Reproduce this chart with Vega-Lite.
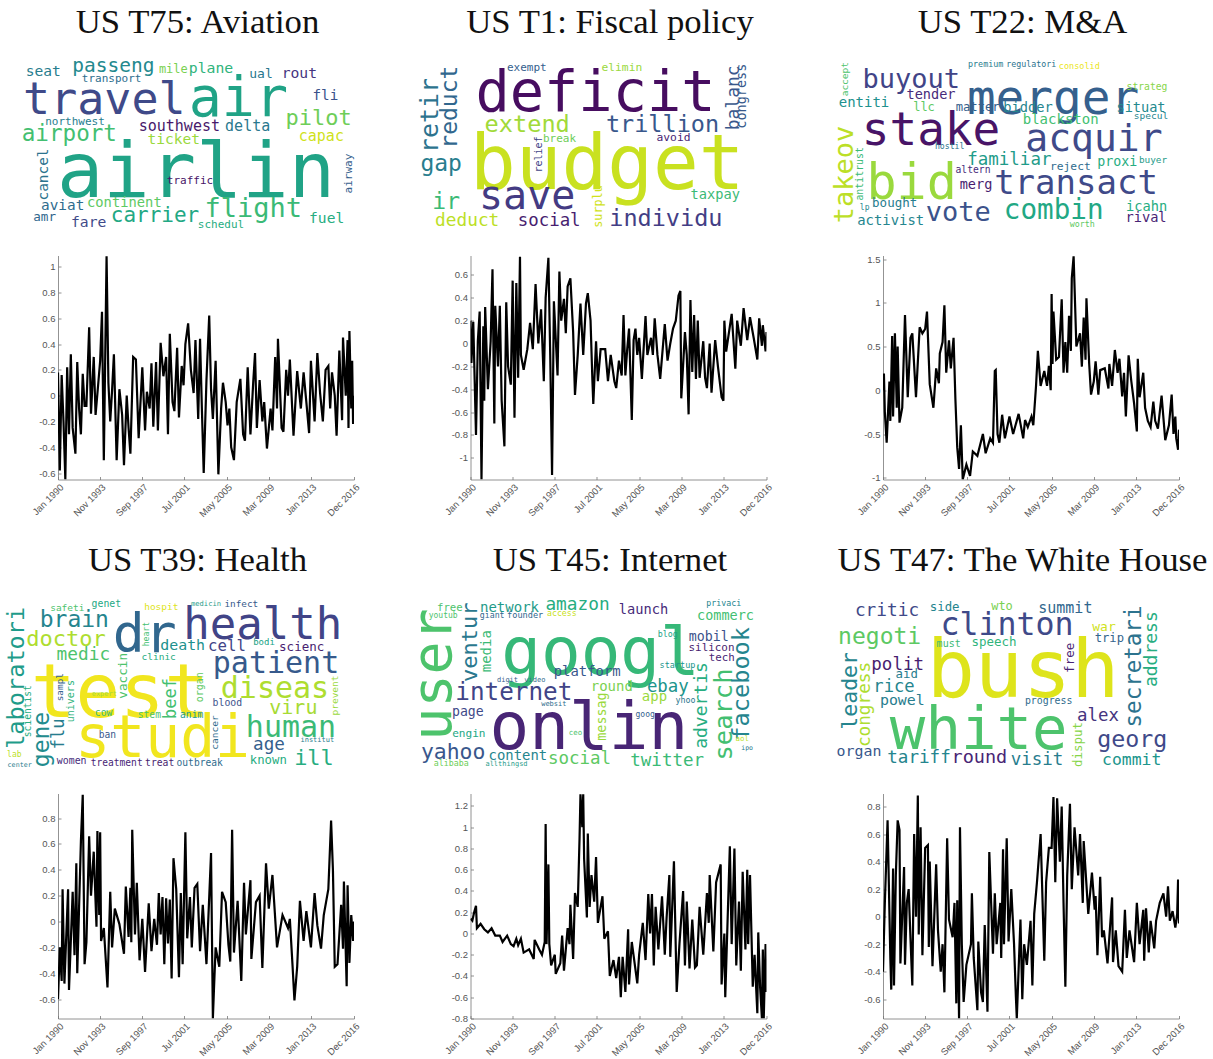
{
"$schema":"https://vega.github.io/schema/vega-lite/v6.json",
"background":"white",
"padding":{"left":5,"top":4.5,"right":0,"bottom":0},
"columns":3,
"bounds":"flush",
"spacing":{"row":0,"column":116.5},
"config":{"view":{"stroke":null},
"axis":{"grid":false,"title":null,"domainColor":"#777","domainWidth":0.8,"tickColor":"#777","tickWidth":0.8,"tickSize":-3,"labelColor":"#555","labelFont":"Liberation Sans","labelFontSize":9.5},
"title":{"font":"Liberation Serif","fontSize":34.7,"fontWeight":"normal","color":"#111","anchor":"middle","baseline":"alphabetic","dx":-8.5}},
"datasets":{
"c1":[{"w":"airlin","x":585,"y":590,"s":77,"c":0.58,"r":0},{"w":"travel","x":310,"y":340,"s":45,"c":0.22,"r":0},{"w":"air","x":712,"y":345,"s":55,"c":0.58,"r":0},{"w":"passeng","x":337,"y":215,"s":19.5,"c":0.47,"r":0},{"w":"seat","x":127,"y":225,"s":14.6,"c":0.42,"r":0},{"w":"transport","x":332,"y":243,"s":11,"c":0.36,"r":0},{"w":"mile","x":517,"y":218,"s":12,"c":0.8,"r":0},{"w":"plane","x":630,"y":218,"s":14.8,"c":0.65,"r":0},{"w":"ual","x":780,"y":233,"s":13,"c":0.4,"r":0},{"w":"rout","x":895,"y":233,"s":14.7,"c":0.15,"r":0},{"w":"fli","x":973,"y":297,"s":14.3,"c":0.25,"r":0},{"w":"pilot","x":953,"y":372,"s":22,"c":0.78,"r":0},{"w":"northwest","x":222,"y":372,"s":11,"c":0.42,"r":0},{"w":"airport","x":205,"y":420,"s":22.6,"c":0.7,"r":0},{"w":"southwest","x":535,"y":392,"s":15,"c":0.06,"r":0},{"w":"delta","x":740,"y":392,"s":15,"c":0.4,"r":0},{"w":"ticket","x":518,"y":430,"s":14.5,"c":0.85,"r":0},{"w":"capac","x":961,"y":420,"s":15,"c":0.93,"r":0},{"w":"cancel","x":140,"y":522,"s":14.4,"c":0.38,"r":1},{"w":"airway","x":1053,"y":519,"s":11,"c":0.3,"r":1},{"w":"traffic","x":567,"y":550,"s":11,"c":0.05,"r":0},{"w":"aviat","x":185,"y":628,"s":14.4,"c":0.35,"r":0},{"w":"continent","x":370,"y":620,"s":13.8,"c":0.75,"r":0},{"w":"amr","x":131,"y":660,"s":12.6,"c":0.33,"r":0},{"w":"carrier","x":462,"y":665,"s":21,"c":0.6,"r":0},{"w":"flight","x":757,"y":650,"s":27,"c":0.68,"r":0},{"w":"fare","x":263,"y":680,"s":14.7,"c":0.22,"r":0},{"w":"fuel","x":977,"y":668,"s":14.6,"c":0.62,"r":0},{"w":"schedul","x":660,"y":683,"s":11,"c":0.62,"r":0}],
"c2":[{"w":"deficit","x":585,"y":330,"s":57,"c":0.03,"r":0},{"w":"budget","x":620,"y":565,"s":76,"c":0.92,"r":0},{"w":"save","x":380,"y":625,"s":40,"c":0.17,"r":0},{"w":"extend","x":380,"y":393,"s":23.6,"c":0.86,"r":0},{"w":"trillion","x":786,"y":393,"s":23.5,"c":0.27,"r":0},{"w":"exempt","x":379,"y":210,"s":11,"c":0.3,"r":0},{"w":"elimin","x":664,"y":210,"s":11.3,"c":0.85,"r":0},{"w":"balanc","x":1015,"y":292,"s":18,"c":0.27,"r":1},{"w":"congress","x":1035,"y":287,"s":13.5,"c":0.28,"r":1},{"w":"retir","x":112,"y":345,"s":25,"c":0.38,"r":1},{"w":"reduct","x":170,"y":320,"s":23,"c":0.33,"r":1},{"w":"gap","x":122,"y":510,"s":23,"c":0.42,"r":0},{"w":"ir","x":137,"y":625,"s":23,"c":0.68,"r":0},{"w":"deduct","x":200,"y":677,"s":17.8,"c":0.9,"r":0},{"w":"social","x":446,"y":677,"s":17.4,"c":0.08,"r":0},{"w":"individu","x":796,"y":675,"s":23.5,"c":0.18,"r":0},{"w":"surplu","x":605,"y":618,"s":11.8,"c":0.93,"r":1},{"w":"relief","x":423,"y":462,"s":10,"c":0.2,"r":1},{"w":"break","x":477,"y":424,"s":11,"c":0.78,"r":0},{"w":"avoid","x":819,"y":422,"s":11.3,"c":0.1,"r":0},{"w":"taxpay","x":944,"y":594,"s":13.7,"c":0.68,"r":0}],
"c3":[{"w":"merger","x":717,"y":340,"s":47.7,"c":0.3,"r":0},{"w":"stake","x":351,"y":432,"s":46,"c":0.05,"r":0},{"w":"bid","x":293,"y":595,"s":50,"c":0.85,"r":0},{"w":"acquir","x":840,"y":450,"s":38,"c":0.22,"r":0},{"w":"buyout","x":292,"y":262,"s":27,"c":0.2,"r":0},{"w":"transact","x":786,"y":580,"s":34,"c":0.22,"r":0},{"w":"takeov","x":118,"y":522,"s":27,"c":0.9,"r":1},{"w":"vote","x":433,"y":660,"s":27,"c":0.25,"r":0},{"w":"combin","x":719,"y":655,"s":27.6,"c":0.6,"r":0},{"w":"familiar","x":586,"y":493,"s":17.5,"c":0.55,"r":0},{"w":"tender","x":351,"y":295,"s":13.6,"c":0.12,"r":0},{"w":"entiti","x":150,"y":318,"s":14,"c":0.5,"r":0},{"w":"llc","x":330,"y":330,"s":12,"c":0.75,"r":0},{"w":"matter","x":491,"y":330,"s":12.2,"c":0.3,"r":0},{"w":"bidder","x":642,"y":335,"s":13.7,"c":0.45,"r":0},{"w":"blackston","x":740,"y":370,"s":14,"c":0.7,"r":0},{"w":"situat","x":981,"y":333,"s":13.6,"c":0.47,"r":0},{"w":"strateg","x":999,"y":268,"s":9.7,"c":0.82,"r":0},{"w":"specul","x":1011,"y":355,"s":9.5,"c":0.45,"r":0},{"w":"premium","x":515,"y":200,"s":8.4,"c":0.42,"r":0},{"w":"regulatori","x":652,"y":200,"s":8.3,"c":0.38,"r":0},{"w":"consolid","x":796,"y":205,"s":8.5,"c":0.97,"r":0},{"w":"accept","x":103,"y":236,"s":9.5,"c":0.72,"r":1},{"w":"hostil","x":407,"y":445,"s":8.2,"c":0.38,"r":0},{"w":"antitrust","x":147,"y":520,"s":9.9,"c":0.68,"r":1},{"w":"proxi","x":910,"y":495,"s":13.3,"c":0.62,"r":0},{"w":"buyer","x":1017,"y":488,"s":9.4,"c":0.55,"r":0},{"w":"reject","x":769,"y":508,"s":11.3,"c":0.35,"r":0},{"w":"altern","x":477,"y":518,"s":9.7,"c":0.12,"r":0},{"w":"merg","x":486,"y":565,"s":13.6,"c":0.08,"r":0},{"w":"bought","x":242,"y":618,"s":12.5,"c":0.42,"r":0},{"w":"lp","x":152,"y":628,"s":8,"c":0.45,"r":0},{"w":"activist","x":230,"y":673,"s":13.9,"c":0.45,"r":0},{"w":"icahn","x":998,"y":630,"s":13.7,"c":0.62,"r":0},{"w":"rival","x":996,"y":665,"s":13.7,"c":0.1,"r":0},{"w":"worth","x":805,"y":680,"s":8.3,"c":0.75,"r":0}],
"c4":[{"w":"test","x":357,"y":530,"s":74,"c":0.98,"r":0},{"w":"studi","x":485,"y":650,"s":58,"c":0.98,"r":0},{"w":"dr","x":431,"y":335,"s":53,"c":0.33,"r":0},{"w":"health","x":785,"y":295,"s":44,"c":0.2,"r":0},{"w":"patient","x":825,"y":397,"s":30,"c":0.28,"r":0},{"w":"diseas","x":822,"y":473,"s":30,"c":0.88,"r":0},{"w":"viru","x":877,"y":520,"s":20,"c":0.87,"r":0},{"w":"human","x":870,"y":590,"s":30,"c":0.68,"r":0},{"w":"ill","x":939,"y":672,"s":22,"c":0.62,"r":0},{"w":"age","x":804,"y":628,"s":17.6,"c":0.3,"r":0},{"w":"known","x":802,"y":670,"s":12.3,"c":0.62,"r":0},{"w":"brain","x":220,"y":260,"s":23,"c":0.45,"r":0},{"w":"doctor","x":195,"y":315,"s":22,"c":0.88,"r":0},{"w":"medic","x":247,"y":358,"s":17.8,"c":0.72,"r":0},{"w":"laboratori","x":70,"y":412,"s":23.6,"c":0.55,"r":1},{"w":"gene","x":145,"y":597,"s":23,"c":0.48,"r":1},{"w":"flu","x":188,"y":580,"s":17,"c":0.42,"r":1},{"w":"scientist","x":90,"y":512,"s":9.6,"c":0.62,"r":1},{"w":"sampl","x":186,"y":440,"s":9.4,"c":0.3,"r":1},{"w":"univers","x":218,"y":482,"s":10,"c":0.65,"r":1},{"w":"beef","x":525,"y":474,"s":17,"c":0.7,"r":1},{"w":"vaccin","x":378,"y":406,"s":12.7,"c":0.72,"r":1},{"w":"heart","x":445,"y":281,"s":8.1,"c":0.7,"r":1},{"w":"organ","x":605,"y":440,"s":10,"c":0.75,"r":1},{"w":"prevent","x":1011,"y":465,"s":9.5,"c":0.85,"r":1},{"w":"cancer","x":650,"y":576,"s":9.5,"c":0.35,"r":1},{"w":"safeti","x":199,"y":210,"s":9.5,"c":0.72,"r":0},{"w":"genet","x":316,"y":200,"s":9.8,"c":0.6,"r":0},{"w":"hospit","x":481,"y":207,"s":9.5,"c":0.95,"r":0},{"w":"medicin","x":615,"y":196,"s":7.1,"c":0.55,"r":0},{"w":"infect","x":721,"y":200,"s":9.4,"c":0.28,"r":0},{"w":"death","x":545,"y":327,"s":14.9,"c":0.5,"r":0},{"w":"cell","x":678,"y":330,"s":15.7,"c":0.2,"r":0},{"w":"bodi","x":789,"y":312,"s":9,"c":0.58,"r":0},{"w":"scienc","x":902,"y":331,"s":12.5,"c":0.08,"r":0},{"w":"clinic","x":473,"y":358,"s":9.5,"c":0.62,"r":0},{"w":"expert","x":310,"y":465,"s":7,"c":0.87,"r":0},{"w":"blood","x":679,"y":497,"s":9.8,"c":0.25,"r":0},{"w":"cow","x":308,"y":525,"s":9.8,"c":0.68,"r":0},{"w":"stem","x":445,"y":533,"s":9.7,"c":0.72,"r":0},{"w":"anim","x":572,"y":533,"s":9.7,"c":0.55,"r":0},{"w":"ban","x":319,"y":592,"s":9.6,"c":0.27,"r":0},{"w":"institut","x":949,"y":605,"s":7,"c":0.42,"r":0},{"w":"lab","x":40,"y":650,"s":8,"c":0.9,"r":0},{"w":"center","x":56,"y":678,"s":6.7,"c":0.42,"r":0},{"w":"women","x":212,"y":670,"s":9.9,"c":0.12,"r":0},{"w":"treatment","x":347,"y":675,"s":9.6,"c":0.1,"r":0},{"w":"treat","x":476,"y":675,"s":9.7,"c":0.08,"r":0},{"w":"outbreak","x":596,"y":677,"s":9.6,"c":0.35,"r":0}],
"c5":[{"w":"googl","x":600,"y":400,"s":66,"c":0.67,"r":0},{"w":"onlin","x":565,"y":625,"s":66,"c":0.1,"r":0},{"w":"user","x":150,"y":402,"s":55,"c":0.72,"r":1},{"w":"internet","x":340,"y":478,"s":24.3,"c":0.2,"r":0},{"w":"yahoo","x":158,"y":655,"s":21.4,"c":0.27,"r":0},{"w":"social","x":537,"y":670,"s":17.5,"c":0.75,"r":0},{"w":"twitter","x":800,"y":675,"s":17.5,"c":0.68,"r":0},{"w":"search","x":995,"y":522,"s":25.5,"c":0.7,"r":1},{"w":"facebook","x":1045,"y":430,"s":23.6,"c":0.45,"r":1},{"w":"advertis","x":920,"y":495,"s":18,"c":0.62,"r":1},{"w":"ebay","x":802,"y":455,"s":17.4,"c":0.52,"r":0},{"w":"app","x":762,"y":482,"s":14,"c":0.85,"r":0},{"w":"round","x":634,"y":450,"s":14,"c":0.8,"r":0},{"w":"platform","x":560,"y":405,"s":13.9,"c":0.27,"r":0},{"w":"network","x":327,"y":213,"s":14,"c":0.55,"r":0},{"w":"amazon","x":531,"y":208,"s":17.8,"c":0.62,"r":0},{"w":"free","x":148,"y":212,"s":10.7,"c":0.72,"r":0},{"w":"ventur","x":228,"y":305,"s":22,"c":0.4,"r":1},{"w":"media","x":270,"y":332,"s":14,"c":0.68,"r":1},{"w":"youtub","x":128,"y":232,"s":8,"c":0.72,"r":0},{"w":"giant","x":275,"y":232,"s":8.2,"c":0.33,"r":0},{"w":"founder","x":374,"y":232,"s":8.6,"c":0.33,"r":0},{"w":"access","x":484,"y":227,"s":8.2,"c":0.92,"r":0},{"w":"launch","x":729,"y":220,"s":13.7,"c":0.12,"r":0},{"w":"commerc","x":975,"y":237,"s":13.5,"c":0.7,"r":0},{"w":"privaci","x":970,"y":195,"s":8.3,"c":0.45,"r":0},{"w":"blog","x":802,"y":290,"s":8.3,"c":0.58,"r":0},{"w":"mobil","x":925,"y":300,"s":13.3,"c":0.25,"r":0},{"w":"silicon","x":933,"y":330,"s":10.9,"c":0.08,"r":0},{"w":"tech","x":964,"y":360,"s":10.8,"c":0.1,"r":0},{"w":"startup","x":831,"y":382,"s":8.5,"c":0.52,"r":0},{"w":"digit","x":321,"y":425,"s":7,"c":0.3,"r":0},{"w":"video","x":403,"y":425,"s":7,"c":0.35,"r":0},{"w":"websit","x":460,"y":497,"s":7,"c":0.35,"r":0},{"w":"yhoo","x":855,"y":488,"s":8.3,"c":0.4,"r":0},{"w":"messag","x":615,"y":528,"s":13.4,"c":0.85,"r":1},{"w":"page","x":202,"y":525,"s":13.2,"c":0.22,"r":0},{"w":"engin","x":205,"y":590,"s":11.1,"c":0.6,"r":0},{"w":"goog","x":734,"y":530,"s":8,"c":0.3,"r":0},{"w":"ceo","x":525,"y":583,"s":7.4,"c":0.72,"r":0},{"w":"aol","x":1025,"y":600,"s":7.4,"c":0.9,"r":0},{"w":"ipo","x":1040,"y":627,"s":6.5,"c":0.4,"r":0},{"w":"content","x":352,"y":658,"s":13.9,"c":0.45,"r":0},{"w":"alibaba","x":152,"y":675,"s":8.3,"c":0.78,"r":0},{"w":"allthingsd","x":318,"y":675,"s":7,"c":0.55,"r":0}],
"c6":[{"w":"bush","x":627,"y":470,"s":80,"c":0.95,"r":0},{"w":"white","x":494,"y":625,"s":59,"c":0.72,"r":0},{"w":"clinton","x":579,"y":283,"s":31.6,"c":0.22,"r":0},{"w":"negoti","x":197,"y":310,"s":23,"c":0.75,"r":0},{"w":"critic","x":219,"y":225,"s":17.8,"c":0.22,"r":0},{"w":"side","x":392,"y":212,"s":12.4,"c":0.45,"r":0},{"w":"wto","x":564,"y":207,"s":12,"c":0.8,"r":0},{"w":"summit","x":754,"y":217,"s":15,"c":0.33,"r":0},{"w":"secretari","x":982,"y":378,"s":22.5,"c":0.38,"r":1},{"w":"address","x":1030,"y":326,"s":18,"c":0.62,"r":1},{"w":"war","x":870,"y":272,"s":13,"c":0.93,"r":0},{"w":"trip","x":886,"y":305,"s":12.2,"c":0.32,"r":0},{"w":"speech","x":540,"y":315,"s":12.5,"c":0.65,"r":0},{"w":"must","x":404,"y":318,"s":10,"c":0.68,"r":0},{"w":"free","x":780,"y":352,"s":12.5,"c":0.1,"r":1},{"w":"leader","x":128,"y":451,"s":21.5,"c":0.45,"r":1},{"w":"congress","x":168,"y":492,"s":17.7,"c":0.88,"r":1},{"w":"polit","x":251,"y":388,"s":17.5,"c":0.08,"r":0},{"w":"aid","x":278,"y":412,"s":12.4,"c":0.42,"r":0},{"w":"rice","x":240,"y":455,"s":17.2,"c":0.45,"r":0},{"w":"powel","x":265,"y":493,"s":14.9,"c":0.42,"r":0},{"w":"progress","x":704,"y":490,"s":9.9,"c":0.35,"r":0},{"w":"alex","x":852,"y":540,"s":17.4,"c":0.15,"r":0},{"w":"georg","x":955,"y":620,"s":23.3,"c":0.22,"r":0},{"w":"disput","x":803,"y":612,"s":12.5,"c":0.82,"r":1},{"w":"organ","x":135,"y":645,"s":14.9,"c":0.27,"r":0},{"w":"tariff","x":315,"y":668,"s":17.6,"c":0.45,"r":0},{"w":"round","x":496,"y":668,"s":18.5,"c":0.1,"r":0},{"w":"visit","x":669,"y":672,"s":17.5,"c":0.42,"r":0},{"w":"commit","x":953,"y":672,"s":16.4,"c":0.52,"r":0}],
"s1":[{"m":0,"v":0.18},{"m":2,"v":-0.58},{"m":4,"v":0.16},{"m":6,"v":-0.2},{"m":8,"v":-0.65},{"m":10,"v":0.22},{"m":12,"v":-0.3},{"m":14,"v":0.32},{"m":16,"v":-0.25},{"m":19,"v":-0.45},{"m":21,"v":0.26},{"m":23,"v":-0.1},{"m":25,"v":-0.3},{"m":27,"v":0.17},{"m":29,"v":-0.08},{"m":31,"v":-0.08},{"m":34,"v":0.53},{"m":36,"v":-0.14},{"m":39,"v":0.3},{"m":41,"v":-0.15},{"m":44,"v":0.1},{"m":46,"v":0.27},{"m":48,"v":0.65},{"m":50,"v":-0.5},{"m":53,"v":1.08},{"m":55,"v":0.1},{"m":57,"v":-0.2},{"m":59,"v":0.04},{"m":61,"v":0.32},{"m":64,"v":-0.5},{"m":67,"v":0.05},{"m":70,"v":-0.15},{"m":72,"v":-0.54},{"m":75,"v":0},{"m":77,"v":-0.25},{"m":79,"v":-0.45},{"m":82,"v":0.3},{"m":85,"v":0.28},{"m":88,"v":-0.33},{"m":92,"v":0.22},{"m":95,"v":-0.27},{"m":97,"v":0.03},{"m":100,"v":-0.1},{"m":102,"v":0.25},{"m":104,"v":-0.24},{"m":107,"v":0.26},{"m":109,"v":-0.27},{"m":112,"v":0.41},{"m":115,"v":0.15},{"m":118,"v":0.3},{"m":120,"v":-0.3},{"m":122,"v":0.48},{"m":125,"v":-0.05},{"m":127,"v":-0.12},{"m":130,"v":0.37},{"m":132,"v":-0.17},{"m":135,"v":0.23},{"m":137,"v":0.08},{"m":139,"v":0.4},{"m":142,"v":0.56},{"m":145,"v":0.2},{"m":148,"v":0.02},{"m":150,"v":0.43},{"m":153,"v":-0.18},{"m":155,"v":0.44},{"m":157,"v":-0.1},{"m":159,"v":-0.6},{"m":162,"v":0.12},{"m":165,"v":0.62},{"m":167,"v":0.05},{"m":169,"v":-0.18},{"m":172,"v":0.27},{"m":175,"v":-0.61},{"m":178,"v":-0.1},{"m":180,"v":0.1},{"m":183,"v":-0.05},{"m":185,"v":-0.23},{"m":187,"v":-0.1},{"m":189,"v":-0.4},{"m":192,"v":-0.5},{"m":195,"v":-0.05},{"m":199,"v":0.13},{"m":202,"v":-0.3},{"m":204,"v":-0.35},{"m":207,"v":0.22},{"m":210,"v":-0.3},{"m":213,"v":0.1},{"m":215,"v":0.33},{"m":217,"v":-0.25},{"m":220,"v":0.12},{"m":223,"v":-0.2},{"m":225,"v":-0.05},{"m":228,"v":-0.41},{"m":232,"v":-0.1},{"m":234,"v":-0.27},{"m":237,"v":0.3},{"m":239,"v":-0.1},{"m":240,"v":0.44},{"m":244,"v":-0.25},{"m":246,"v":-0.28},{"m":249,"v":0.2},{"m":251,"v":0},{"m":253,"v":0.28},{"m":257,"v":-0.31},{"m":261,"v":0.19},{"m":265,"v":-0.1},{"m":268,"v":0.18},{"m":271,"v":-0.05},{"m":274,"v":-0.29},{"m":276,"v":0.27},{"m":280,"v":-0.2},{"m":283,"v":0.33},{"m":286,"v":0.02},{"m":289,"v":-0.2},{"m":292,"v":0.2},{"m":295,"v":0.23},{"m":297,"v":-0.1},{"m":299,"v":0.18},{"m":302,"v":0},{"m":304,"v":-0.31},{"m":307,"v":0.35},{"m":310,"v":-0.19},{"m":311,"v":0.45},{"m":314,"v":0},{"m":316,"v":0.43},{"m":317,"v":-0.25},{"m":318,"v":0.5},{"m":320,"v":-0.1},{"m":321,"v":0.27},{"m":322,"v":-0.22},{"m":323,"v":0}],
"s2":[{"m":0,"v":0.2},{"m":1,"v":-0.17},{"m":3,"v":0.19},{"m":6,"v":-0.8},{"m":8,"v":0.02},{"m":10,"v":0.28},{"m":12,"v":-1.19},{"m":14,"v":0.15},{"m":15,"v":-0.5},{"m":16,"v":0.32},{"m":19,"v":-0.4},{"m":22,"v":0.02},{"m":24,"v":0.65},{"m":26,"v":-0.7},{"m":27,"v":0.33},{"m":30,"v":-0.2},{"m":32,"v":0.33},{"m":34,"v":-0.5},{"m":37,"v":-0.9},{"m":39,"v":0.36},{"m":41,"v":-0.2},{"m":44,"v":-0.36},{"m":46,"v":0.55},{"m":48,"v":-0.65},{"m":50,"v":0.53},{"m":52,"v":-0.3},{"m":54,"v":0.76},{"m":55,"v":-0.1},{"m":58,"v":-0.23},{"m":62,"v":-0.05},{"m":65,"v":0.18},{"m":68,"v":-0.05},{"m":71,"v":0.52},{"m":74,"v":0},{"m":77,"v":0.3},{"m":80,"v":-0.33},{"m":82,"v":0.4},{"m":85,"v":0.75},{"m":87,"v":-0.1},{"m":89,"v":-1.15},{"m":91,"v":0.37},{"m":95,"v":-0.28},{"m":97,"v":0.63},{"m":99,"v":0.2},{"m":102,"v":0.39},{"m":104,"v":0.09},{"m":106,"v":0.5},{"m":109,"v":0.57},{"m":112,"v":0.1},{"m":114,"v":-0.45},{"m":117,"v":-0.1},{"m":120,"v":0.35},{"m":123,"v":-0.1},{"m":126,"v":0.35},{"m":128,"v":0.44},{"m":131,"v":0.2},{"m":133,"v":-0.32},{"m":134,"v":-0.53},{"m":137,"v":0.02},{"m":139,"v":-0.33},{"m":142,"v":-0.05},{"m":147,"v":-0.05},{"m":150,"v":-0.33},{"m":153,"v":-0.1},{"m":157,"v":-0.33},{"m":159,"v":-0.39},{"m":162,"v":-0.15},{"m":165,"v":-0.28},{"m":167,"v":0.25},{"m":169,"v":-0.28},{"m":171,"v":-0.05},{"m":173,"v":0.13},{"m":176,"v":-0.67},{"m":178,"v":0.03},{"m":180,"v":0.13},{"m":182,"v":-0.1},{"m":184,"v":0.05},{"m":187,"v":-0.31},{"m":191,"v":0.24},{"m":193,"v":-0.1},{"m":197,"v":0.05},{"m":199,"v":-0.1},{"m":201,"v":0.22},{"m":204,"v":-0.1},{"m":207,"v":-0.31},{"m":212,"v":0.17},{"m":215,"v":-0.15},{"m":218,"v":0},{"m":221,"v":0.13},{"m":224,"v":0.2},{"m":227,"v":0.42},{"m":229,"v":0.46},{"m":230,"v":-0.48},{"m":234,"v":0.1},{"m":236,"v":-0.1},{"m":238,"v":-0.62},{"m":240,"v":0.38},{"m":242,"v":-0.25},{"m":244,"v":0.25},{"m":246,"v":-0.31},{"m":248,"v":0.2},{"m":250,"v":-0.3},{"m":254,"v":0.02},{"m":256,"v":-0.3},{"m":258,"v":-0.39},{"m":261,"v":0},{"m":263,"v":-0.43},{"m":267,"v":0.03},{"m":270,"v":-0.2},{"m":274,"v":-0.47},{"m":276,"v":-0.5},{"m":277,"v":0.2},{"m":279,"v":-0.07},{"m":283,"v":0.15},{"m":285,"v":0.26},{"m":289,"v":-0.22},{"m":291,"v":0.2},{"m":295,"v":-0.02},{"m":298,"v":0.31},{"m":302,"v":0.03},{"m":305,"v":0.23},{"m":309,"v":0.05},{"m":313,"v":-0.14},{"m":315,"v":0.22},{"m":318,"v":-0.02},{"m":319,"v":0.16},{"m":322,"v":-0.07},{"m":323,"v":0.1}],
"s3":[{"m":0,"v":0},{"m":1,"v":0.19},{"m":2,"v":-0.25},{"m":4,"v":-0.6},{"m":7,"v":0.1},{"m":8,"v":-0.35},{"m":10,"v":0.62},{"m":11,"v":-0.3},{"m":13,"v":0.65},{"m":15,"v":-0.2},{"m":16,"v":0.5},{"m":18,"v":-0.37},{"m":21,"v":-0.2},{"m":24,"v":0.86},{"m":27,"v":-0.08},{"m":30,"v":0.6},{"m":32,"v":0.65},{"m":36,"v":-0.08},{"m":40,"v":0.72},{"m":43,"v":0.65},{"m":46,"v":0.7},{"m":48,"v":0.9},{"m":51,"v":0.07},{"m":55,"v":-0.2},{"m":58,"v":0.25},{"m":61,"v":0.08},{"m":62,"v":0.42},{"m":65,"v":0.55},{"m":67,"v":0.97},{"m":69,"v":0.2},{"m":72,"v":0.57},{"m":74,"v":0.25},{"m":77,"v":0.6},{"m":79,"v":-0.1},{"m":81,"v":-0.65},{"m":83,"v":-0.9},{"m":85,"v":-0.4},{"m":87,"v":-1.02},{"m":91,"v":-0.85},{"m":95,"v":-0.98},{"m":98,"v":-0.7},{"m":103,"v":-0.75},{"m":109,"v":-0.5},{"m":112,"v":-0.72},{"m":117,"v":-0.55},{"m":120,"v":-0.6},{"m":122,"v":0.22},{"m":123,"v":0.23},{"m":125,"v":-0.5},{"m":127,"v":-0.6},{"m":130,"v":-0.28},{"m":133,"v":-0.55},{"m":138,"v":-0.3},{"m":142,"v":-0.5},{"m":148,"v":-0.27},{"m":153,"v":-0.55},{"m":155,"v":-0.34},{"m":158,"v":-0.42},{"m":162,"v":-0.3},{"m":164,"v":-0.4},{"m":167,"v":0.05},{"m":169,"v":0.45},{"m":172,"v":0.05},{"m":176,"v":0.22},{"m":179,"v":0.05},{"m":181,"v":0.28},{"m":183,"v":0},{"m":184,"v":1.1},{"m":185,"v":0.3},{"m":186,"v":0.9},{"m":189,"v":0.35},{"m":192,"v":0.38},{"m":195,"v":1.04},{"m":197,"v":0.2},{"m":199,"v":0.55},{"m":201,"v":0.2},{"m":203,"v":0.85},{"m":205,"v":0.45},{"m":206,"v":1.28},{"m":208,"v":1.53},{"m":211,"v":0.5},{"m":215,"v":0.65},{"m":217,"v":0.27},{"m":219,"v":0.83},{"m":221,"v":0.35},{"m":222,"v":1.05},{"m":225,"v":0.3},{"m":227,"v":-0.05},{"m":230,"v":0.1},{"m":232,"v":0.33},{"m":235,"v":-0.05},{"m":237,"v":0.23},{"m":242,"v":0.25},{"m":246,"v":0.02},{"m":247,"v":0.3},{"m":250,"v":0.05},{"m":253,"v":0.46},{"m":256,"v":0.2},{"m":258,"v":0.36},{"m":261,"v":-0.07},{"m":263,"v":0.2},{"m":265,"v":-0.3},{"m":268,"v":0.4},{"m":271,"v":0.1},{"m":274,"v":-0.15},{"m":277,"v":-0.47},{"m":278,"v":0.36},{"m":280,"v":-0.08},{"m":284,"v":0.2},{"m":286,"v":-0.2},{"m":289,"v":-0.35},{"m":292,"v":-0.42},{"m":295,"v":-0.13},{"m":297,"v":-0.35},{"m":300,"v":-0.44},{"m":304,"v":-0.06},{"m":308,"v":-0.57},{"m":312,"v":-0.4},{"m":315,"v":-0.05},{"m":317,"v":-0.5},{"m":319,"v":-0.3},{"m":320,"v":-0.55},{"m":322,"v":-0.68},{"m":323,"v":-0.45}],
"s4":[{"m":0,"v":-0.6},{"m":2,"v":-0.2},{"m":4,"v":-0.46},{"m":5,"v":0.25},{"m":7,"v":-0.48},{"m":11,"v":0.25},{"m":12,"v":-0.53},{"m":16,"v":0.23},{"m":18,"v":-0.26},{"m":20,"v":0.45},{"m":21,"v":-0.4},{"m":25,"v":0.62},{"m":27,"v":0.98},{"m":29,"v":-0.33},{"m":31,"v":-0.16},{"m":34,"v":0.66},{"m":36,"v":0.2},{"m":39,"v":0.54},{"m":42,"v":-0.04},{"m":43,"v":0.7},{"m":45,"v":0.05},{"m":46,"v":0.69},{"m":47,"v":-0.15},{"m":50,"v":-0.05},{"m":54,"v":-0.51},{"m":57,"v":0.23},{"m":59,"v":-0.2},{"m":62,"v":0.1},{"m":67,"v":-0.02},{"m":72,"v":-0.25},{"m":74,"v":0.27},{"m":77,"v":-0.12},{"m":79,"v":0.26},{"m":80,"v":-0.16},{"m":81,"v":0.71},{"m":84,"v":-0.1},{"m":86,"v":0.3},{"m":89,"v":-0.3},{"m":92,"v":0.02},{"m":95,"v":-0.39},{"m":99,"v":0.14},{"m":102,"v":-0.23},{"m":105,"v":0.02},{"m":108,"v":-0.18},{"m":110,"v":0.22},{"m":112,"v":-0.1},{"m":114,"v":0.19},{"m":116,"v":-0.33},{"m":118,"v":0.18},{"m":120,"v":-0.17},{"m":122,"v":0.17},{"m":124,"v":-0.44},{"m":126,"v":0.49},{"m":129,"v":0.25},{"m":132,"v":-0.43},{"m":134,"v":0.22},{"m":136,"v":-0.33},{"m":139,"v":0.69},{"m":141,"v":-0.13},{"m":144,"v":0.19},{"m":146,"v":-0.2},{"m":149,"v":0.26},{"m":152,"v":0.29},{"m":155,"v":-0.23},{"m":158,"v":0.13},{"m":162,"v":-0.33},{"m":167,"v":0.53},{"m":169,"v":-0.75},{"m":170,"v":-0.56},{"m":172,"v":-0.2},{"m":176,"v":-0.35},{"m":179,"v":0.23},{"m":183,"v":0.15},{"m":186,"v":-0.18},{"m":188,"v":-0.31},{"m":190,"v":0.71},{"m":192,"v":-0.24},{"m":196,"v":0.16},{"m":200,"v":-0.46},{"m":203,"v":0.3},{"m":205,"v":-0.1},{"m":210,"v":0.32},{"m":211,"v":-0.29},{"m":216,"v":0.15},{"m":220,"v":0.2},{"m":223,"v":-0.36},{"m":227,"v":0.45},{"m":230,"v":0.1},{"m":234,"v":0.36},{"m":239,"v":-0.2},{"m":245,"v":0.05},{"m":251,"v":-0.05},{"m":253,"v":0.02},{"m":256,"v":-0.35},{"m":258,"v":-0.61},{"m":261,"v":-0.35},{"m":264,"v":0.16},{"m":268,"v":-0.15},{"m":271,"v":0.08},{"m":276,"v":-0.2},{"m":280,"v":0.22},{"m":283,"v":-0.03},{"m":287,"v":-0.21},{"m":290,"v":0.05},{"m":295,"v":0.25},{"m":298,"v":0.78},{"m":300,"v":0.4},{"m":302,"v":-0.35},{"m":305,"v":-0.33},{"m":309,"v":0.13},{"m":311,"v":-0.21},{"m":312,"v":0.31},{"m":315,"v":-0.5},{"m":316,"v":0.28},{"m":318,"v":-0.32},{"m":320,"v":0.05},{"m":322,"v":-0.15},{"m":323,"v":0}],
"s5":[{"m":0,"v":0.14},{"m":2,"v":0.12},{"m":4,"v":0.2},{"m":6,"v":0.26},{"m":7,"v":0.05},{"m":11,"v":0.09},{"m":15,"v":0.04},{"m":19,"v":0.01},{"m":23,"v":0.05},{"m":27,"v":-0.02},{"m":32,"v":-0.02},{"m":35,"v":-0.08},{"m":40,"v":-0.02},{"m":44,"v":-0.1},{"m":47,"v":-0.12},{"m":50,"v":-0.05},{"m":52,"v":-0.11},{"m":55,"v":-0.05},{"m":58,"v":-0.18},{"m":64,"v":-0.15},{"m":69,"v":-0.24},{"m":70,"v":-0.06},{"m":75,"v":-0.15},{"m":78,"v":-0.2},{"m":81,"v":-0.08},{"m":82,"v":1.03},{"m":83,"v":-0.1},{"m":85,"v":0.65},{"m":86,"v":-0.1},{"m":88,"v":-0.3},{"m":92,"v":-0.2},{"m":93,"v":-0.38},{"m":98,"v":-0.28},{"m":100,"v":-0.02},{"m":102,"v":-0.35},{"m":106,"v":0.05},{"m":108,"v":-0.1},{"m":109,"v":0.27},{"m":112,"v":-0.24},{"m":114,"v":0.38},{"m":117,"v":0.25},{"m":119,"v":0.9},{"m":120,"v":1.31},{"m":122,"v":1},{"m":123,"v":1.31},{"m":124,"v":0.7},{"m":127,"v":0.15},{"m":128,"v":0.94},{"m":130,"v":0.25},{"m":132,"v":0.55},{"m":135,"v":0.3},{"m":137,"v":0.72},{"m":139,"v":0.1},{"m":144,"v":0.35},{"m":146,"v":-0.05},{"m":150,"v":0.02},{"m":152,"v":-0.4},{"m":156,"v":-0.25},{"m":159,"v":-0.42},{"m":162,"v":-0.22},{"m":164,"v":-0.6},{"m":166,"v":-0.22},{"m":169,"v":-0.55},{"m":172,"v":0.04},{"m":173,"v":-0.48},{"m":176,"v":-0.08},{"m":182,"v":-0.47},{"m":184,"v":-0.2},{"m":188,"v":0.1},{"m":191,"v":-0.25},{"m":194,"v":0.37},{"m":196,"v":0},{"m":198,"v":0.37},{"m":200,"v":-0.3},{"m":202,"v":0.25},{"m":205,"v":-0.15},{"m":209,"v":0.35},{"m":212,"v":-0.2},{"m":214,"v":0.15},{"m":217,"v":0.55},{"m":218,"v":-0.22},{"m":222,"v":0.68},{"m":225,"v":-0.55},{"m":228,"v":-0.1},{"m":232,"v":0.4},{"m":234,"v":-0.3},{"m":236,"v":0.3},{"m":239,"v":-0.33},{"m":242,"v":0.13},{"m":245,"v":-0.32},{"m":247,"v":-0.3},{"m":250,"v":0.25},{"m":254,"v":-0.2},{"m":258,"v":0.38},{"m":260,"v":0.1},{"m":261,"v":0.55},{"m":265,"v":-0.17},{"m":268,"v":0.48},{"m":273,"v":0.65},{"m":274,"v":-0.48},{"m":277,"v":0},{"m":278,"v":-0.6},{"m":283,"v":0.82},{"m":285,"v":-0.1},{"m":288,"v":0.8},{"m":290,"v":-0.3},{"m":293,"v":0.3},{"m":295,"v":-0.35},{"m":297,"v":0.58},{"m":300,"v":-0.15},{"m":302,"v":0.6},{"m":303,"v":-0.1},{"m":305,"v":0.55},{"m":308,"v":-0.5},{"m":310,"v":-0.2},{"m":313,"v":-0.75},{"m":314,"v":0.01},{"m":316,"v":-0.5},{"m":318,"v":-0.8},{"m":319,"v":-0.15},{"m":320,"v":-0.8},{"m":322,"v":-0.1},{"m":323,"v":-0.55}],
"s6":[{"m":0,"v":-0.4},{"m":2,"v":0.1},{"m":5,"v":0.7},{"m":8,"v":-0.3},{"m":9,"v":-0.53},{"m":11,"v":0.35},{"m":12,"v":-0.5},{"m":14,"v":0.3},{"m":16,"v":0.7},{"m":18,"v":0.63},{"m":19,"v":-0.34},{"m":23,"v":0.36},{"m":24,"v":-0.35},{"m":26,"v":0.1},{"m":28,"v":0.2},{"m":30,"v":-0.16},{"m":32,"v":-0.5},{"m":34,"v":0.6},{"m":36,"v":0},{"m":38,"v":0.88},{"m":39,"v":-0.13},{"m":41,"v":0.65},{"m":43,"v":-0.28},{"m":46,"v":0.5},{"m":49,"v":0.52},{"m":50,"v":-0.22},{"m":51,"v":0.4},{"m":54,"v":-0.36},{"m":58,"v":0.38},{"m":60,"v":-0.1},{"m":63,"v":-0.4},{"m":65,"v":-0.2},{"m":67,"v":-0.55},{"m":70,"v":0.57},{"m":72,"v":-0.02},{"m":76,"v":-0.15},{"m":78,"v":0.1},{"m":80,"v":-0.63},{"m":81,"v":0.12},{"m":83,"v":-0.74},{"m":84,"v":0.65},{"m":86,"v":-0.2},{"m":88,"v":-0.62},{"m":91,"v":-0.35},{"m":96,"v":-0.2},{"m":97,"v":0.17},{"m":99,"v":-0.3},{"m":103,"v":-0.68},{"m":104,"v":-0.18},{"m":107,"v":-0.55},{"m":109,"v":-0.62},{"m":111,"v":-0.06},{"m":114,"v":-0.69},{"m":116,"v":0.47},{"m":120,"v":-0.27},{"m":122,"v":0.17},{"m":124,"v":-0.2},{"m":128,"v":0.1},{"m":129,"v":-0.3},{"m":131,"v":0.49},{"m":132,"v":-0.2},{"m":135,"v":0.57},{"m":137,"v":-0.18},{"m":140,"v":0.2},{"m":143,"v":-0.2},{"m":145,"v":-0.58},{"m":146,"v":-0.74},{"m":150,"v":-0.02},{"m":152,"v":-0.6},{"m":154,"v":-0.2},{"m":157,"v":-0.35},{"m":161,"v":-0.03},{"m":163,"v":-0.5},{"m":165,"v":0.02},{"m":168,"v":0.25},{"m":172,"v":0.6},{"m":176,"v":-0.32},{"m":178,"v":0.25},{"m":181,"v":0.5},{"m":184,"v":0.5},{"m":186,"v":0.87},{"m":188,"v":0.25},{"m":190,"v":0.86},{"m":193,"v":0.4},{"m":195,"v":0.8},{"m":197,"v":0.1},{"m":199,"v":-0.51},{"m":201,"v":0.3},{"m":204,"v":0.82},{"m":206,"v":0.2},{"m":209,"v":0.65},{"m":213,"v":0.3},{"m":215,"v":0.6},{"m":218,"v":0.1},{"m":219,"v":0.55},{"m":224,"v":0.02},{"m":228,"v":0.32},{"m":231,"v":0.05},{"m":232,"v":0.15},{"m":234,"v":-0.28},{"m":237,"v":0.29},{"m":239,"v":-0.15},{"m":241,"v":-0.1},{"m":245,"v":-0.34},{"m":250,"v":0.14},{"m":251,"v":-0.33},{"m":254,"v":-0.1},{"m":257,"v":-0.36},{"m":261,"v":-0.4},{"m":264,"v":0.05},{"m":266,"v":-0.3},{"m":269,"v":-0.1},{"m":274,"v":-0.33},{"m":277,"v":0.1},{"m":280,"v":-0.2},{"m":284,"v":0.05},{"m":285,"v":-0.32},{"m":287,"v":0.06},{"m":290,"v":-0.26},{"m":292,"v":-0.03},{"m":296,"v":-0.23},{"m":298,"v":-0.03},{"m":302,"v":0.1},{"m":306,"v":0.17},{"m":309,"v":0},{"m":311,"v":0.22},{"m":313,"v":-0.03},{"m":316,"v":0.04},{"m":319,"v":-0.08},{"m":321,"v":0.02},{"m":322,"v":0.27},{"m":323,"v":-0.05}]
},
"concat":[
{"title":{"text":"US T75: Aviation","offset":15},"width":296,"height":200,"data":{"name":"c1"},"mark":{"type":"text","font":"DejaVu Sans Mono","align":"center","baseline":"alphabetic"},"encoding":{"x":{"field":"x","type":"quantitative","scale":{"domain":[171,1059]},"axis":null},"y":{"field":"y","type":"quantitative","scale":{"domain":[765,165]},"axis":null},"text":{"field":"w"},"size":{"field":"s","type":"quantitative","scale":{"domain":[0,100],"range":[0,100]},"legend":null},"angle":{"field":"r","type":"quantitative","scale":{"domain":[0,1],"range":[0,270]},"legend":null},"color":{"field":"c","type":"quantitative","scale":{"scheme":"viridis","domain":[0,1]},"legend":null}}},
{"title":{"text":"US T1: Fiscal policy","offset":15},"width":296,"height":200,"data":{"name":"c2"},"mark":{"type":"text","font":"DejaVu Sans Mono","align":"center","baseline":"alphabetic"},"encoding":{"x":{"field":"x","type":"quantitative","scale":{"domain":[210,1098]},"axis":null},"y":{"field":"y","type":"quantitative","scale":{"domain":[765,165]},"axis":null},"text":{"field":"w"},"size":{"field":"s","type":"quantitative","scale":{"domain":[0,100],"range":[0,100]},"legend":null},"angle":{"field":"r","type":"quantitative","scale":{"domain":[0,1],"range":[0,270]},"legend":null},"color":{"field":"c","type":"quantitative","scale":{"scheme":"viridis","domain":[0,1]},"legend":null}}},
{"title":{"text":"US T22: M&A","offset":15},"width":296,"height":200,"data":{"name":"c3"},"mark":{"type":"text","font":"DejaVu Sans Mono","align":"center","baseline":"alphabetic"},"encoding":{"x":{"field":"x","type":"quantitative","scale":{"domain":[207,1095]},"axis":null},"y":{"field":"y","type":"quantitative","scale":{"domain":[765,165]},"axis":null},"text":{"field":"w"},"size":{"field":"s","type":"quantitative","scale":{"domain":[0,100],"range":[0,100]},"legend":null},"angle":{"field":"r","type":"quantitative","scale":{"domain":[0,1],"range":[0,270]},"legend":null},"color":{"field":"c","type":"quantitative","scale":{"scheme":"viridis","domain":[0,1]},"legend":null}}},
{"width":296,"height":224,"data":{"name":"s1"},"mark":{"type":"line","color":"black","strokeWidth":2.2,"clip":true},"encoding":{"x":{"field":"m","type":"quantitative","scale":{"domain":[0,323],"nice":false},"axis":{"values":[0,46,92,138,184,230,276,323],"labelAngle":-45,"labelAlign":"right","labelBaseline":"middle","labelOffset":3.5,"labelPadding":9,"labelFlush":false,"labelOverlap":false,"labelExpr":"timeFormat(datetime(1990,datum.value,1),'%b %Y')"}},"y":{"field":"v","type":"quantitative","scale":{"domain":[-0.65,1.086],"nice":false,"zero":false},"axis":{"values":[-0.6,-0.4,-0.2,0,0.2,0.4,0.6,0.8,1],"labelExpr":"''+datum.value","labelPadding":6}}}},
{"width":296,"height":224,"data":{"name":"s2"},"mark":{"type":"line","color":"black","strokeWidth":2.2,"clip":true},"encoding":{"x":{"field":"m","type":"quantitative","scale":{"domain":[0,323],"nice":false},"axis":{"values":[0,46,92,138,184,230,276,323],"labelAngle":-45,"labelAlign":"right","labelBaseline":"middle","labelOffset":3.5,"labelPadding":9,"labelFlush":false,"labelOverlap":false,"labelExpr":"timeFormat(datetime(1990,datum.value,1),'%b %Y')"}},"y":{"field":"v","type":"quantitative","scale":{"domain":[-1.19,0.77],"nice":false,"zero":false},"axis":{"values":[-1,-0.8,-0.6,-0.4,-0.2,0,0.2,0.4,0.6],"labelExpr":"''+datum.value","labelPadding":6}}}},
{"width":296,"height":224,"data":{"name":"s3"},"mark":{"type":"line","color":"black","strokeWidth":2.2,"clip":true},"encoding":{"x":{"field":"m","type":"quantitative","scale":{"domain":[0,323],"nice":false},"axis":{"values":[0,46,92,138,184,230,276,323],"labelAngle":-45,"labelAlign":"right","labelBaseline":"middle","labelOffset":3.5,"labelPadding":9,"labelFlush":false,"labelOverlap":false,"labelExpr":"timeFormat(datetime(1990,datum.value,1),'%b %Y')"}},"y":{"field":"v","type":"quantitative","scale":{"domain":[-1.02,1.54],"nice":false,"zero":false},"axis":{"values":[-1,-0.5,0,0.5,1,1.5],"labelExpr":"''+datum.value","labelPadding":6}}}},
{"title":{"text":"US T39: Health","offset":-99},"width":296,"height":314,"data":{"name":"c4"},"mark":{"type":"text","font":"DejaVu Sans Mono","align":"center","baseline":"alphabetic"},"encoding":{"x":{"field":"x","type":"quantitative","scale":{"domain":[171,1059]},"axis":null},"y":{"field":"y","type":"quantitative","scale":{"domain":[759,-183]},"axis":null},"text":{"field":"w"},"size":{"field":"s","type":"quantitative","scale":{"domain":[0,100],"range":[0,100]},"legend":null},"angle":{"field":"r","type":"quantitative","scale":{"domain":[0,1],"range":[0,270]},"legend":null},"color":{"field":"c","type":"quantitative","scale":{"scheme":"viridis","domain":[0,1]},"legend":null}}},
{"title":{"text":"US T45: Internet","offset":-99},"width":296,"height":314,"data":{"name":"c5"},"mark":{"type":"text","font":"DejaVu Sans Mono","align":"center","baseline":"alphabetic"},"encoding":{"x":{"field":"x","type":"quantitative","scale":{"domain":[210,1098]},"axis":null},"y":{"field":"y","type":"quantitative","scale":{"domain":[759,-183]},"axis":null},"text":{"field":"w"},"size":{"field":"s","type":"quantitative","scale":{"domain":[0,100],"range":[0,100]},"legend":null},"angle":{"field":"r","type":"quantitative","scale":{"domain":[0,1],"range":[0,270]},"legend":null},"color":{"field":"c","type":"quantitative","scale":{"scheme":"viridis","domain":[0,1]},"legend":null}}},
{"title":{"text":"US T47: The White House","offset":-99},"width":296,"height":314,"data":{"name":"c6"},"mark":{"type":"text","font":"DejaVu Sans Mono","align":"center","baseline":"alphabetic"},"encoding":{"x":{"field":"x","type":"quantitative","scale":{"domain":[207,1095]},"axis":null},"y":{"field":"y","type":"quantitative","scale":{"domain":[759,-183]},"axis":null},"text":{"field":"w"},"size":{"field":"s","type":"quantitative","scale":{"domain":[0,100],"range":[0,100]},"legend":null},"angle":{"field":"r","type":"quantitative","scale":{"domain":[0,1],"range":[0,270]},"legend":null},"color":{"field":"c","type":"quantitative","scale":{"scheme":"viridis","domain":[0,1]},"legend":null}}},
{"width":296,"height":225,"data":{"name":"s4"},"mark":{"type":"line","color":"black","strokeWidth":2.2,"clip":true},"encoding":{"x":{"field":"m","type":"quantitative","scale":{"domain":[0,323],"nice":false},"axis":{"values":[0,46,92,138,184,230,276,323],"labelAngle":-45,"labelAlign":"right","labelBaseline":"middle","labelOffset":3.5,"labelPadding":9,"labelFlush":false,"labelOverlap":false,"labelExpr":"timeFormat(datetime(1990,datum.value,1),'%b %Y')"}},"y":{"field":"v","type":"quantitative","scale":{"domain":[-0.75,0.99],"nice":false,"zero":false},"axis":{"values":[-0.6,-0.4,-0.2,0,0.2,0.4,0.6,0.8],"labelExpr":"''+datum.value","labelPadding":6}}}},
{"width":296,"height":225,"data":{"name":"s5"},"mark":{"type":"line","color":"black","strokeWidth":2.2,"clip":true},"encoding":{"x":{"field":"m","type":"quantitative","scale":{"domain":[0,323],"nice":false},"axis":{"values":[0,46,92,138,184,230,276,323],"labelAngle":-45,"labelAlign":"right","labelBaseline":"middle","labelOffset":3.5,"labelPadding":9,"labelFlush":false,"labelOverlap":false,"labelExpr":"timeFormat(datetime(1990,datum.value,1),'%b %Y')"}},"y":{"field":"v","type":"quantitative","scale":{"domain":[-0.8,1.317],"nice":false,"zero":false},"axis":{"values":[-0.8,-0.6,-0.4,-0.2,0,0.2,0.4,0.6,0.8,1,1.2],"labelExpr":"''+datum.value","labelPadding":6}}}},
{"width":296,"height":225,"data":{"name":"s6"},"mark":{"type":"line","color":"black","strokeWidth":2.2,"clip":true},"encoding":{"x":{"field":"m","type":"quantitative","scale":{"domain":[0,323],"nice":false},"axis":{"values":[0,46,92,138,184,230,276,323],"labelAngle":-45,"labelAlign":"right","labelBaseline":"middle","labelOffset":3.5,"labelPadding":9,"labelFlush":false,"labelOverlap":false,"labelExpr":"timeFormat(datetime(1990,datum.value,1),'%b %Y')"}},"y":{"field":"v","type":"quantitative","scale":{"domain":[-0.74,0.895],"nice":false,"zero":false},"axis":{"values":[-0.6,-0.4,-0.2,0,0.2,0.4,0.6,0.8],"labelExpr":"''+datum.value","labelPadding":6}}}}
]
}
